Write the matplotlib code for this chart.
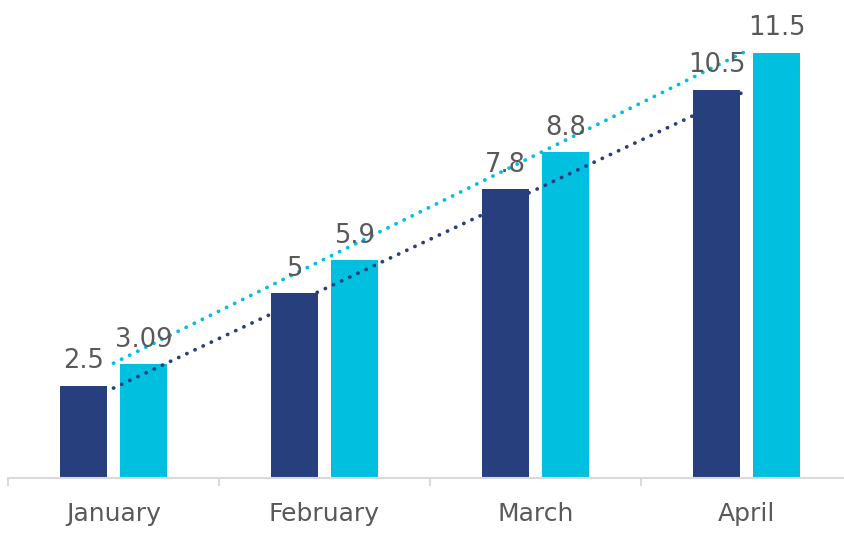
import numpy as np
import matplotlib
matplotlib.use("Agg")
import matplotlib.pyplot as plt

categories = ["January", "February", "March", "April"]
series_a = [2.5, 5, 7.8, 10.5]
series_b = [3.09, 5.9, 8.8, 11.5]
labels_a = ["2.5", "5", "7.8", "10.5"]
labels_b = ["3.09", "5.9", "8.8", "11.5"]

dark = "#283F7E"
light = "#00BFDF"
text_col = "#595959"
axis_col = "#D9D9D9"

plt.rcParams['font.family'] = ['DejaVu Sans']

fig = plt.figure(figsize=(8.45, 5.35), dpi=100)
W, H = 845, 535
base_px = 478
ppu = 37.0
left_px = 8
cat_w = 211
ax = fig.add_axes([left_px / W, (H - base_px) / H, 4 * cat_w / W, base_px / H])
ax.set_xlim(-0.5, 3.5)
ax.set_ylim(0, base_px / ppu)

x = np.arange(len(categories))
bw = 47 / cat_w
off = 30 / cat_w
ax.bar(x - off, series_a, width=bw, color=dark, zorder=2)
ax.bar(x + off, series_b, width=bw, color=light, zorder=2)

# linear trendlines
for vals, col in ((series_a, dark), (series_b, light)):
    k, b = np.polyfit(x, vals, 1)
    xs = np.array([x[0], x[-1]])
    ax.plot(xs, k * xs + b, color=col, lw=2.7, linestyle=(0, (0.05, 2.35)),
            dash_capstyle='round', zorder=3)

for xi, v, lab in zip(x - off, series_a, labels_a):
    ax.annotate(lab, (xi, v), xytext=(0, 8), textcoords='offset points',
                ha='center', va='bottom', fontsize=18.5, color=text_col, zorder=4)
for xi, v, lab in zip(x + off, series_b, labels_b):
    ax.annotate(lab, (xi, v), xytext=(0, 8), textcoords='offset points',
                ha='center', va='bottom', fontsize=18.5, color=text_col, zorder=4)

for s in ("top", "right", "left"):
    ax.spines[s].set_visible(False)
ax.spines["bottom"].set_color(axis_col)
ax.spines["bottom"].set_linewidth(1.5)
ax.set_yticks([])
ax.set_xticks(x)
ax.set_xticklabels(categories, fontsize=18, color=text_col)
ax.tick_params(axis='x', which='major', length=0, pad=17)
ax.set_xticks(np.arange(-0.5, 4, 1), minor=True)
ax.tick_params(axis='x', which='minor', length=6, width=1.5, color=axis_col)

fig.savefig("out.png", dpi=100)
